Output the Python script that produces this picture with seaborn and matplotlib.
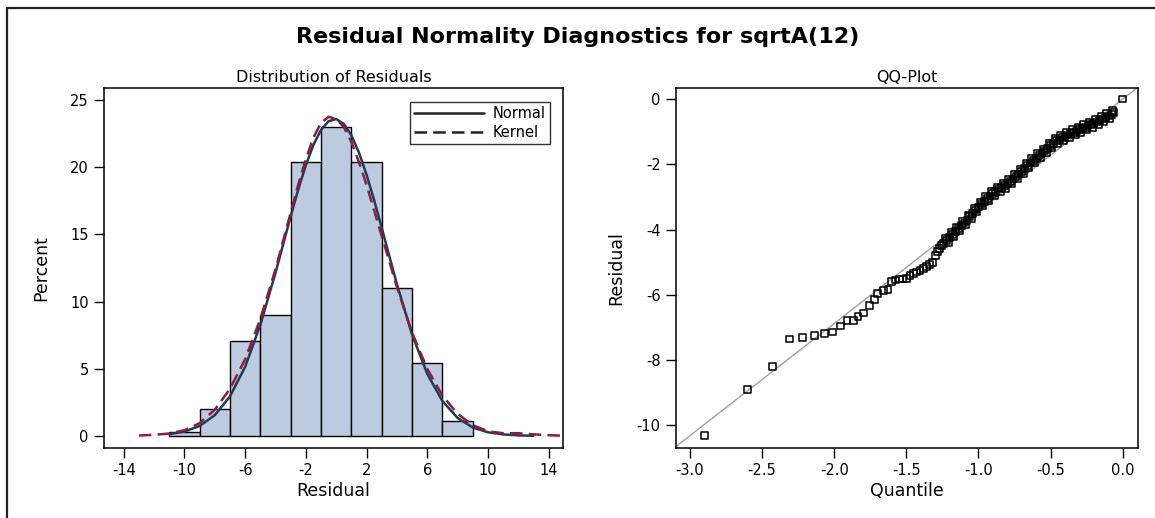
import numpy as np
import pandas as pd
import matplotlib
matplotlib.use("Agg")
import matplotlib.pyplot as plt
from matplotlib.lines import Line2D
from matplotlib.ticker import FormatStrFormatter
import seaborn as sns

# ---------------- data ----------------
BIN_EDGES = [-11, -9, -7, -5, -3, -1, 1, 3, 5, 7, 9]
BIN_CENTERS = [-10, -8, -6, -4, -2, 0, 2, 4, 6, 8]
BIN_PERCENT = [0.3, 2.0, 7.1, 9.0, 20.4, 23.0, 20.4, 11.0, 5.4, 1.1]

NORMAL_X = [-11, -10, -9, -8, -7, -6, -5, -4, -3, -2.5, -2, -1.5, -1, -0.5, 0,
            0.5, 1, 1.5, 2, 2.5, 3, 4, 5, 6, 7, 8, 9, 10, 11, 12, 13]
NORMAL_Y = [0.13, 0.32, 0.74, 1.54, 2.94, 5.14, 8.25, 12.13, 16.33, 18.34, 20.15,
            21.66, 22.78, 23.43, 23.59, 23.23, 22.38, 21.10, 19.46, 17.56, 15.50,
            11.31, 7.56, 4.63, 2.60, 1.34, 0.63, 0.27, 0.11, 0.04, 0.01]

KERNEL_X = [-13, -12, -11, -10, -9, -8, -7, -6, -5, -4, -3, -2.5, -2, -1.5, -1,
            -0.5, 0, 0.5, 1, 1.5, 2, 2.5, 3, 4, 5, 6, 7, 8, 9, 10, 11, 12, 13, 14, 15]
KERNEL_Y = [0.03, 0.08, 0.18, 0.42, 0.95, 1.95, 3.5, 5.7, 8.7, 12.4, 16.6, 18.7,
            20.6, 22.2, 23.3, 23.75, 23.6, 23.0, 21.9, 20.4, 18.7, 16.8, 14.9, 11.1,
            7.7, 5.0, 3.0, 1.65, 0.8, 0.35, 0.2, 0.2, 0.12, 0.05, 0.02]

HIST_XTICKS = [-14, -10, -6, -2, 2, 6, 10, 14]
HIST_YTICKS = [0, 5, 10, 15, 20, 25]

# QQ points: separate lower-tail points, then the dense band (two interleaved rows)
QQ_QUANTILE = [
    -2.90, -2.60, -2.43, -2.31, -2.22, -2.135, -2.07, -2.01, -1.957, -1.911,
    -1.868, -1.835, -1.795, -1.754, -1.721, -1.698, -1.66, -1.627, -1.601, -1.575,
    -1.55, -1.525, -1.50, -1.475, -1.45, -1.428, -1.405, -1.383, -1.36, -1.34,
    -1.32, -1.30, -1.285, -1.27, -1.255,
    -1.24, -1.22, -1.20, -1.18, -1.16, -1.14, -1.12, -1.10, -1.08, -1.06, -1.04,
    -1.02, -1.00, -0.98, -0.96, -0.94, -0.92, -0.90, -0.88, -0.86, -0.84, -0.82,
    -0.80, -0.78, -0.76, -0.74, -0.72, -0.70, -0.68, -0.66, -0.64, -0.62, -0.60,
    -0.58, -0.56, -0.54, -0.52, -0.50, -0.48, -0.46, -0.44, -0.42, -0.40, -0.38,
    -0.36, -0.34, -0.32, -0.30, -0.28, -0.26, -0.24, -0.22, -0.20, -0.18, -0.16,
    -0.14, -0.12, -0.10, -0.08, -0.06,
    -1.23, -1.21, -1.19, -1.17, -1.15, -1.13, -1.11, -1.09, -1.07, -1.05, -1.03,
    -1.01, -0.99, -0.97, -0.95, -0.93, -0.91, -0.89, -0.87, -0.85, -0.83, -0.81,
    -0.79, -0.77, -0.75, -0.73, -0.71, -0.69, -0.67, -0.65, -0.63, -0.61, -0.59,
    -0.57, -0.55, -0.53, -0.51, -0.49, -0.47, -0.45, -0.43, -0.41, -0.39, -0.37,
    -0.35, -0.33, -0.31, -0.29, -0.27, -0.25, -0.23, -0.21, -0.19, -0.17, -0.15,
    -0.13, -0.11, -0.09, -0.07,
    0.0]
QQ_RESIDUAL = [
    -10.31, -8.90, -8.19, -7.36, -7.32, -7.24, -7.19, -7.14, -6.96, -6.80,
    -6.78, -6.66, -6.56, -6.32, -6.14, -5.97, -5.88, -5.84, -5.60, -5.55,
    -5.52, -5.52, -5.50, -5.42, -5.36, -5.30, -5.26, -5.20, -5.14, -5.08,
    -5.00, -4.80, -4.68, -4.58, -4.50,
    -4.42, -4.33, -4.24, -4.15, -4.06, -3.97, -3.88, -3.80, -3.72, -3.60, -3.50,
    -3.40, -3.31, -3.22, -3.13, -3.05, -2.97, -2.90, -2.83, -2.76, -2.71, -2.65,
    -2.60, -2.53, -2.45, -2.38, -2.30, -2.21, -2.12, -2.04, -1.96, -1.88, -1.81,
    -1.74, -1.66, -1.59, -1.51, -1.43, -1.35, -1.28, -1.23, -1.18, -1.14, -1.10,
    -1.06, -1.02, -0.98, -0.94, -0.90, -0.86, -0.82, -0.78, -0.74, -0.70, -0.65,
    -0.61, -0.56, -0.52, -0.47, -0.42,
    -4.28, -4.39, -4.10, -4.21, -3.92, -4.03, -3.74, -3.86, -3.56, -3.65, -3.35,
    -3.46, -3.17, -3.28, -2.99, -3.11, -2.84, -2.97, -2.70, -2.84, -2.58, -2.73,
    -2.47, -2.59, -2.32, -2.44, -2.16, -2.27, -1.98, -2.10, -1.82, -1.95, -1.68,
    -1.80, -1.53, -1.65, -1.37, -1.49, -1.22, -1.36, -1.11, -1.26, -1.02, -1.18,
    -0.94, -1.10, -0.86, -1.02, -0.78, -0.94, -0.70, -0.86, -0.62, -0.78, -0.53,
    -0.69, -0.44, -0.60, -0.35,
    0.0]
QQ_XTICKS = [-3.0, -2.5, -2.0, -1.5, -1.0, -0.5, 0.0]
QQ_YTICKS = [0, -2, -4, -6, -8, -10]
REF_INTERCEPT = 0.0
REF_SLOPE = 3.44

# ---------------- style ----------------
sns.set_style("ticks")
plt.rcParams["font.family"] = ["DejaVu Sans"]
plt.rcParams["axes.unicode_minus"] = False
plt.rcParams["axes.edgecolor"] = "black"
plt.rcParams["axes.labelcolor"] = "black"
plt.rcParams["text.color"] = "black"
plt.rcParams["axes.linewidth"] = 1.0
plt.rcParams["xtick.color"] = "black"
plt.rcParams["ytick.color"] = "black"

W, H = 1155, 518
fig = plt.figure(figsize=(W / 100, H / 100), dpi=100)
fig.patch.set_facecolor("white")

def box(l, t, r, b):
    return [l / W, 1 - b / H, (r - l) / W, (b - t) / H]

ax1 = fig.add_axes(box(104, 88, 563, 448))
ax2 = fig.add_axes(box(676, 88, 1138, 448))

TICK_FS = 10.5
LABEL_FS = 12.5
SUB_FS = 11.5

# ---------------- histogram panel ----------------
hist_df = pd.DataFrame({"center": BIN_CENTERS, "pct": BIN_PERCENT})
sns.histplot(data=hist_df, x="center", weights="pct", bins=BIN_EDGES, ax=ax1,
             color="#bccbe0", edgecolor="black", linewidth=1.0, alpha=1.0)

normal_df = pd.DataFrame({"x": NORMAL_X, "y": NORMAL_Y})
kernel_df = pd.DataFrame({"x": KERNEL_X, "y": KERNEL_Y})
sns.lineplot(data=normal_df, x="x", y="y", ax=ax1, color="#1d3c58",
             linewidth=1.8, label="Normal")
sns.lineplot(data=kernel_df, x="x", y="y", ax=ax1, color="#8e1c3e",
             linewidth=1.8, linestyle=(0, (5, 2.5)), label="Kernel")

ax1.set_xlim(-15.3, 14.95)
ax1.set_ylim(-0.9, 25.9)
ax1.set_xticks(HIST_XTICKS)
ax1.set_yticks(HIST_YTICKS)
ax1.set_xlabel("Residual", fontsize=LABEL_FS, labelpad=3)
ax1.set_ylabel("Percent", fontsize=LABEL_FS, labelpad=14)
ax1.set_title("Distribution of Residuals", fontsize=SUB_FS, pad=4)

leg_handles = [Line2D([0], [0], color="#222222", lw=1.8),
               Line2D([0], [0], color="#222222", lw=1.8, linestyle=(0, (5, 2.5)))]
leg = ax1.legend(leg_handles, ["Normal", "Kernel"], loc="upper right",
                 fontsize=TICK_FS, frameon=True, fancybox=False, edgecolor="black",
                 handlelength=4.8, handletextpad=0.6, borderpad=0.3,
                 labelspacing=0.25, bbox_to_anchor=(0.988, 0.982))
leg.get_frame().set_linewidth(1.0)

# ---------------- QQ panel ----------------
qq_df = pd.DataFrame({"q": QQ_QUANTILE, "r": QQ_RESIDUAL})
ax2.axline((0.0, REF_INTERCEPT), slope=REF_SLOPE, color="#a0a0a0", lw=1.0, zorder=1)
sns.scatterplot(data=qq_df, x="q", y="r", ax=ax2, marker="s", s=24,
                facecolor="none", edgecolor="black", linewidth=1.1, zorder=3)

ax2.set_xlim(-3.097, 0.106)
ax2.set_ylim(-10.7, 0.34)
ax2.set_xticks(QQ_XTICKS)
ax2.set_yticks(QQ_YTICKS)
ax2.xaxis.set_major_formatter(FormatStrFormatter("%.1f"))
ax2.set_xlabel("Quantile", fontsize=LABEL_FS, labelpad=3)
ax2.set_ylabel("Residual", fontsize=LABEL_FS, labelpad=8)
ax2.set_title("QQ-Plot", fontsize=SUB_FS, pad=4)

for ax in (ax1, ax2):
    ax.tick_params(axis="both", labelsize=TICK_FS, length=7, width=1.0,
                   direction="out", pad=4)
    for sp in ax.spines.values():
        sp.set_visible(True)
        sp.set_color("black")
        sp.set_linewidth(1.1)
    ax.set_facecolor("white")

fig.suptitle("Residual Normality Diagnostics for sqrtA(12)", fontsize=16,
             fontweight="bold", x=0.5, y=1 - 37 / H, va="center")

# outer frame (top and left edges visible in the reference)
fig.add_artist(Line2D([7 / W, 1.0], [1 - 8 / H, 1 - 8 / H], transform=fig.transFigure,
                      color="#222222", lw=1.6))
fig.add_artist(Line2D([7 / W, 7 / W], [0.0, 1 - 8 / H], transform=fig.transFigure,
                      color="#222222", lw=1.6))

fig.savefig("out.png", dpi=100, facecolor="white")
